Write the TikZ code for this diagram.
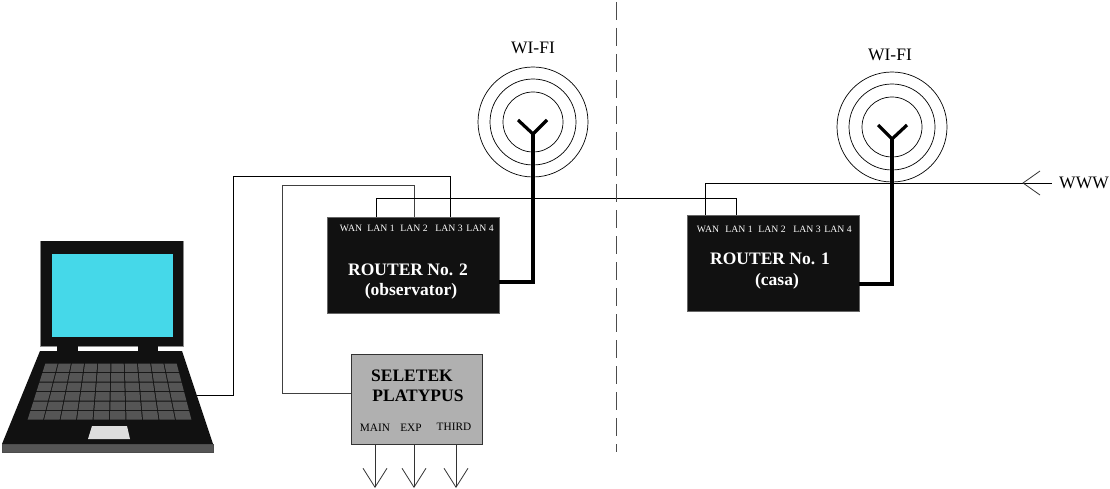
\documentclass[tikz,border=0pt]{standalone}
\usepackage{fontspec}
\setmainfont{Liberation Serif}
\usetikzlibrary{arrows.meta,positioning,calc}

\definecolor{boxblack}{HTML}{111111}
\definecolor{screenblue}{HTML}{45D8E9}
\definecolor{keygrey}{HTML}{555555}
\definecolor{padgrey}{HTML}{DDDDDD}
\definecolor{seletekgrey}{HTML}{B0B0B0}

\begin{document}
\begin{tikzpicture}[x=1pt,y=-1pt,
  router/.style={rectangle,draw=black!60,fill=boxblack,line width=0.8pt,minimum width=172pt,minimum height=96pt,inner sep=0pt},
  seletek/.style={rectangle,draw=black!80,fill=seletekgrey,line width=0.9pt,minimum width=131pt,minimum height=90pt,inner sep=0pt},
  ring/.style={circle,draw=black,line width=0.7pt,inner sep=0pt},
  port/.style={text=white,font=\fontsize{9.7}{11}\selectfont,inner sep=0pt},
  title/.style={text=white,font=\fontsize{17.5}{20}\selectfont\bfseries,inner sep=0pt},
  label/.style={font=\fontsize{17.5}{20}\selectfont,inner sep=0pt},
  output/.style={font=\fontsize{11.3}{13}\selectfont,inner sep=0pt},
  cable/.style={line width=0.9pt},
  greycable/.style={line width=0.9pt,draw=black!75},
  antenna/.style={line width=3.2pt,miter limit=10},
  barb/.style={line width=0.8pt,draw=black!80,-{Straight Barb[length=19pt,width=24pt,line width=0.8pt]}}]
\useasboundingbox (0,0) rectangle (1110,489);

% laptop
\fill[black!45] (40,241) rectangle (184,347);
\fill[boxblack] (41,241) rectangle (183,346);
\fill[screenblue] (52,254) rectangle (173,337);
\fill[boxblack] (57,346) rectangle (78,351);
\fill[boxblack] (138,346) rectangle (158,351);
\fill[boxblack] (40,351) -- (182,351) -- (213,444) -- (2,444) -- cycle;
\draw[fill=keygrey,draw=black!70,line width=0.5pt] (2,444) rectangle (213,452);
\foreach \row in {0,...,5}
  \foreach \col in {0,...,9}
  {
    \pgfmathsetmacro{\ya}{363+9.5*\row+0.5}
    \pgfmathsetmacro{\yb}{363+9.5*(\row+1)-0.5}
    \pgfmathsetmacro{\la}{45-18*(\ya-363)/57}
    \pgfmathsetmacro{\lb}{45-18*(\yb-363)/57}
    \pgfmathsetmacro{\wa}{(132+33*(\ya-363)/57)/10}
    \pgfmathsetmacro{\wb}{(132+33*(\yb-363)/57)/10}
    \fill[keygrey] ({\la+\wa*\col+0.5},\ya) -- ({\la+\wa*(\col+1)-0.5},\ya)
      -- ({\lb+\wb*(\col+1)-0.5},\yb) -- ({\lb+\wb*\col+0.5},\yb) -- cycle;
  }
\fill[padgrey] (92,426) -- (127,426) -- (130,439) -- (88,439) -- cycle;
\coordinate (laptop) at (197,395);

% routers
\node(router2)[router] at (413,265) {};
\node(router1)[router] at (773,263.5) {};
\node(wan2)[port] at (351,228) {WAN};
\node(lana2)[port] at (381,228) {LAN 1};
\node(lanb2)[port] at (414,228) {LAN 2};
\node(lanc2)[port] at (449,228) {LAN 3};
\node(land2)[port] at (480,228) {LAN 4};
\node(title2)[title] at (408,270) {ROUTER No. 2};
\node(sub2)[title] at (411,291) {(observator)};
\node(wan1)[port] at (708,229) {WAN};
\node(lana1)[port] at (739,229) {LAN 1};
\node(lanb1)[port] at (772,229) {LAN 2};
\node(lanc1)[port] at (807,229) {LAN 3};
\node(land1)[port] at (838,229) {LAN 4};
\node(title1)[title] at (770,259) {ROUTER No. 1};
\node(sub1)[title] at (777,281) {(casa)};

% seletek
\node(platypus)[seletek] at (416.5,399) {};
\node(name1)[title,text=black] at (412,376) {SELETEK};
\node(name2)[title,text=black] at (418,396) {PLATYPUS};
\node(main)[output] at (375,428) {MAIN};
\node(exp)[output] at (411,428) {EXP};
\node(third)[output] at (454,427) {THIRD};

% wi-fi
\node(ringa2)[ring,minimum size=110pt] at (533,122) {};
\node(ringb2)[ring,minimum size=86pt] at (533,122) {};
\node(ringc2)[ring,minimum size=60pt] at (533,122) {};
\node(ringa1)[ring,minimum size=110pt] at (892,127) {};
\node(ringb1)[ring,minimum size=86pt] at (892,127) {};
\node(ringc1)[ring,minimum size=60pt] at (892,127) {};
\node(wifi2)[label] at (533,48) {WI-FI};
\node(wifi1)[label] at (890,55) {WI-FI};
\node(www)[label] at (1084,183) {WWW};

\coordinate (rise2) at (533,282);
\coordinate (fork2) at (533,134);
\coordinate (rise1) at (892,284);
\coordinate (fork1) at (892,139);
\draw[antenna] (router2.east |- rise2) -- (rise2) -- (fork2);
\draw[antenna] (518,120) -- (fork2) -- (547,120);
\draw[antenna] (router1.east |- rise1) -- (rise1) -- (fork1);
\draw[antenna] (878,125) -- (fork1) -- (907,125);

% cables
\draw[cable] (laptop) -| (233,176) -| (450,217);
\draw[greycable] (platypus.west |- 0,393) -| (282,185) -| (414,217);
\draw[cable] (376,217) |- (736,198.5) -- (736,215);
\draw[cable] (705,215) |- (1052,183);

% arrows
\node(inlet)[inner sep=0pt] at (1023,183) {};
\draw[line width=0.8pt,draw=black!80] (1040,171) -- (inlet.center) -- (1040,195);
\draw[barb] (375,444) -- (375,488);
\draw[barb] (414,444) -- (414,488);
\draw[barb] (456,444) -- (456,488);

% divider
\draw[line width=0.9pt,draw=black!70,dash pattern=on 18pt off 8pt] (616,2) -- (616,452);
\end{tikzpicture}
\end{document}
